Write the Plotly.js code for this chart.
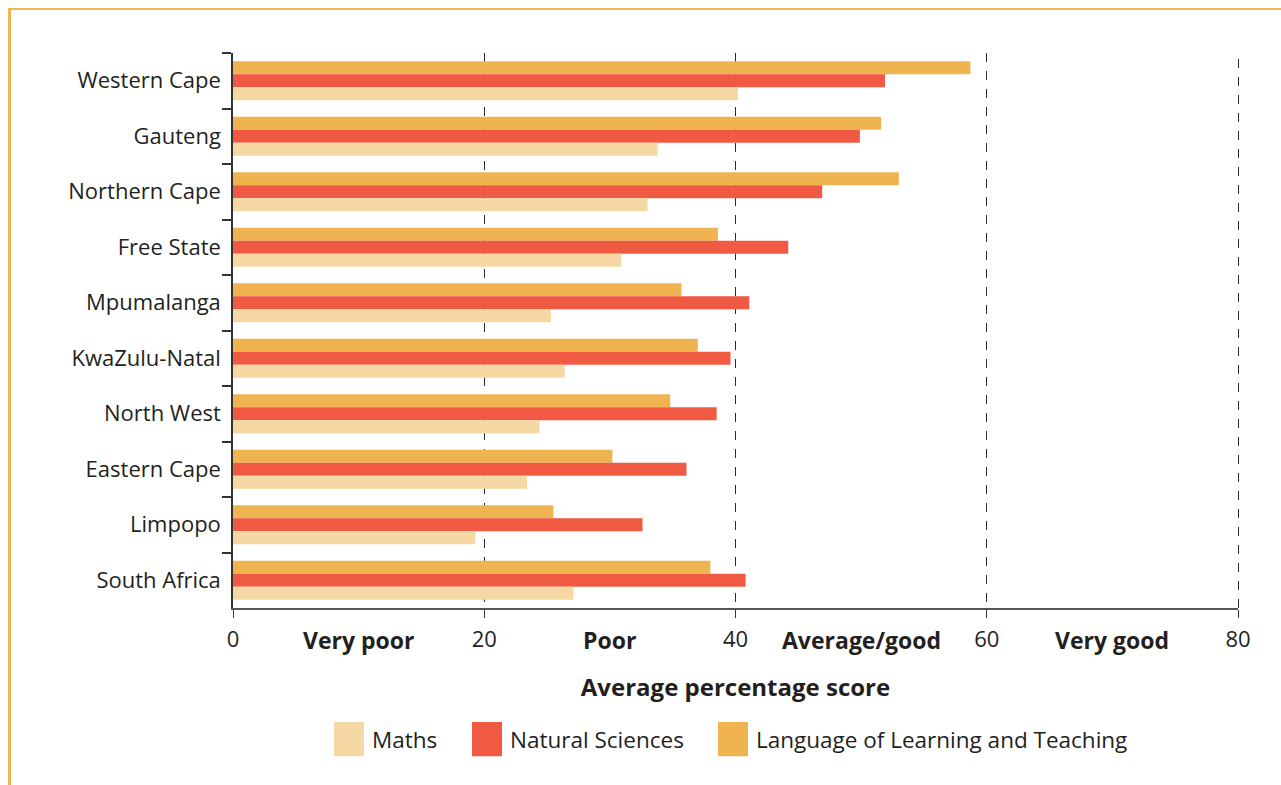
<!DOCTYPE html>
<html>
<head>
<meta charset="utf-8">
<script src="https://cdn.plot.ly/plotly-3.0.1.min.js"></script>
<style>
  html, body { margin: 0; padding: 0; background: #ffffff; }
  #wrap { position: relative; width: 1281px; height: 785px; overflow: hidden; }
  #chart { position: absolute; left: 0; top: 0; width: 1281px; height: 785px; }
  #frame { position: absolute; left: 8px; top: 8px; width: 1290px; height: 800px;
           border-top: 2px solid #f0b452; border-left: 3px solid #f0b452; pointer-events: none; }
</style>
</head>
<body>
<div id="wrap">
  <div id="chart"></div>
  <div id="frame"></div>
</div>
<script>
const provinces = ["Western Cape", "Gauteng", "Northern Cape", "Free State", "Mpumalanga",
                   "KwaZulu-Natal", "North West", "Eastern Cape", "Limpopo", "South Africa"];
const maths    = [40.2, 33.8, 33.0, 30.9, 25.3, 26.4, 24.4, 23.4, 19.3, 27.1];
const natSci   = [51.9, 49.9, 46.9, 44.2, 41.1, 39.6, 38.5, 36.1, 32.6, 40.8];
const language = [58.7, 51.6, 53.0, 38.6, 35.7, 37.0, 34.8, 30.2, 25.5, 38.0];

const seriesNames = ["Maths", "Natural Sciences", "Language of Learning and Teaching"];
const seriesColors = ["#f5d8a3", "#f05a42", "#efb450"];

const xTicks = [0, 20, 40, 60, 80];
const bandPositions = [10, 30, 50, 70];
const bandLabels = ["Very poor", "Poor", "Average/good", "Very good"];

const FONT = "'Open Sans', Lato, sans-serif";
const TEXT = "#231f20";

function barTrace(name, vals, color, legendId) {
  return { type: "bar", orientation: "h", name: name, y: provinces, x: vals,
           legend: legendId,
           marker: { color: color, line: { width: 0 } }, hoverinfo: "x+y+name" };
}

const traces = [
  barTrace(seriesNames[2], language, seriesColors[2], "legend3"),
  barTrace(seriesNames[1], natSci, seriesColors[1], "legend2"),
  barTrace(seriesNames[0], maths, seriesColors[0], "legend")
];

const annotations = bandLabels.map((t, i) => ({
  x: bandPositions[i], xref: "x", y: 0, yref: "paper", yshift: -32,
  text: "<b>" + t + "</b>", showarrow: false, xanchor: "center", yanchor: "middle",
  font: { family: FONT, size: 23, color: TEXT }
}));

// dashed guide at the right end of the axis (grid at range edge is not drawn);
// paper-referenced so it is not clipped by the plot area
const shapes = [{
  type: "line", xref: "paper", yref: "paper", x0: 1, x1: 1,
  y0: 0, y1: 1, line: { color: "#2a2a2a", width: 1, dash: "dash" }, layer: "below"
}];

function legendAt(px) {
  return {
    orientation: "h", x: (px - 233) / 1005, xanchor: "left", y: -0.237, yanchor: "middle",
    itemwidth: 30, font: { family: FONT, size: 22.5, color: TEXT },
    itemclick: false, itemdoubleclick: false, borderwidth: 0, bgcolor: "rgba(0,0,0,0)"
  };
}

const layout = {
  width: 1281, height: 785,
  margin: { l: 233, r: 43, t: 53, b: 177 },
  paper_bgcolor: "#ffffff", plot_bgcolor: "#ffffff",
  barmode: "group", bargap: 0.3, bargroupgap: 0,
  font: { family: FONT, size: 22, color: TEXT },
  showlegend: true,
  legend: legendAt(332),
  legend2: legendAt(470),
  legend3: legendAt(716),
  xaxis: {
    range: [0, 80], tickvals: xTicks, ticktext: xTicks.map(String),
    showgrid: true, gridcolor: "#2a2a2a", gridwidth: 1, griddash: "dash",
    zeroline: false, showline: true, linecolor: "#555555", linewidth: 2,
    ticks: "outside", ticklen: 8, tickcolor: "#333333", tickwidth: 1,
    tickfont: { family: FONT, size: 22, color: TEXT },
    ticklabelstandoff: 3,
    fixedrange: true,
    title: { text: "<b>Average percentage score</b>", standoff: 27,
             font: { family: FONT, size: 24, color: TEXT } }
  },
  yaxis: {
    type: "category", autorange: "reversed", tickson: "boundaries",
    showgrid: false, zeroline: false, showline: true, linecolor: "#333333", linewidth: 1.5,
    ticks: "outside", ticklen: 9, tickcolor: "#333333", tickwidth: 1.5,
    tickfont: { family: FONT, size: 22, color: TEXT },
    ticklabelstandoff: 6,
    fixedrange: true
  },
  annotations: annotations,
  shapes: shapes
};

Plotly.newPlot("chart", traces, layout, { displayModeBar: false }).then(() => {
  document.querySelectorAll(".legendpoints path").forEach(p => {
    const t = p.getAttribute("transform") || "";
    p.setAttribute("transform", t + " translate(-3,0) scale(2.5,2.85)");
  });
  document.querySelectorAll(".shapelayer path").forEach(p => {
    p.style.shapeRendering = "crispEdges";
  });
});
</script>
</body>
</html>
